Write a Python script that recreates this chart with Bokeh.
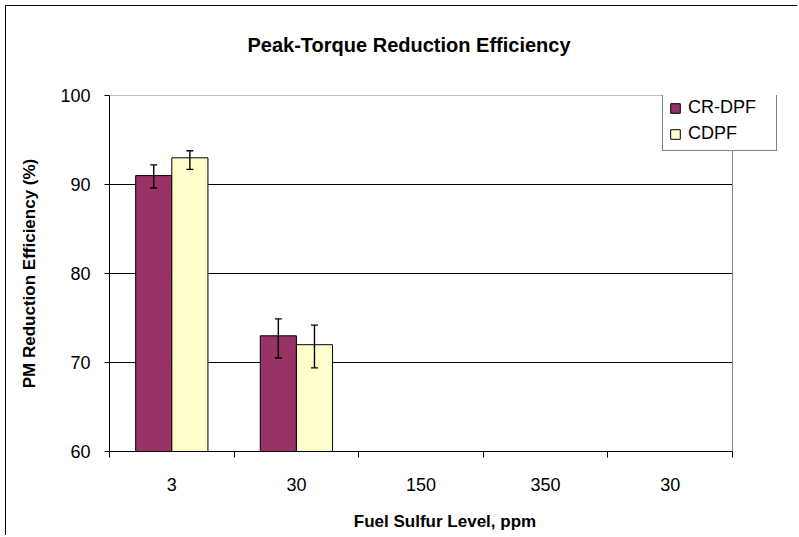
import numpy as np
from bokeh.plotting import figure
from bokeh.models import ColumnDataSource, FixedTicker, Whisker, TeeHead, Range1d, Title
from bokeh.embed import file_html
from bokeh.resources import INLINE

# ---- data ----
categories = ["3", "30", "150", "350", "30"]
cr_dpf = [91.0, 73.0]
cr_dpf_upper = [92.2, 74.9]
cr_dpf_lower = [89.6, 70.5]
cdpf = [93.0, 72.0]
cdpf_upper = [93.8, 74.2]
cdpf_lower = [91.7, 69.4]
y_ticks = [60, 70, 80, 90, 100]
grid_ticks = [70, 80, 90]

# ---- style / layout constants ----
FONT = "Liberation Sans"
BAR_W = 0.29
OFF = BAR_W / 2
C1 = "#993366"
C2 = "#FFFFCC"
EXTRA = 0.385          # room to the right of the last category for the legend

n = len(categories)
idx = np.arange(n)
x_lo, x_hi = -0.5, n - 0.5

p = figure(title=None, width=792, height=530, output_backend="svg", toolbar_location=None,
           x_range=Range1d(x_lo, x_hi + EXTRA), y_range=Range1d(y_ticks[0], y_ticks[-1]),
           min_border_left=103, min_border_right=18, min_border_top=89, min_border_bottom=85)
p.styles = {"border-left": "1px solid black", "border-top": "1px solid black",
            "margin-left": "5px", "margin-top": "5px"}

p.background_fill_color = "white"
p.border_fill_color = "white"
p.outline_line_color = None

# grid lines and plot-area border (limited to the category span)
p.segment(x0=[x_lo] * len(grid_ticks), x1=[x_hi] * len(grid_ticks), y0=grid_ticks, y1=grid_ticks,
          line_color="black", line_width=1)
p.segment(x0=[x_lo, x_hi], x1=[x_hi, x_hi], y0=[y_ticks[-1], y_ticks[0]], y1=[y_ticks[-1], y_ticks[-1]],
          line_color="#808080", line_width=1)

s1 = ColumnDataSource(dict(x=idx[:len(cr_dpf)] - OFF, top=cr_dpf, upper=cr_dpf_upper, lower=cr_dpf_lower))
s2 = ColumnDataSource(dict(x=idx[:len(cdpf)] + OFF, top=cdpf, upper=cdpf_upper, lower=cdpf_lower))

p.vbar(x="x", top="top", bottom=0, width=BAR_W, source=s1, fill_color=C1,
       line_color="black", line_width=1, legend_label="CR-DPF")
p.vbar(x="x", top="top", bottom=0, width=BAR_W, source=s2, fill_color=C2,
       line_color="black", line_width=1, legend_label="CDPF")

for s in (s1, s2):
    w = Whisker(source=s, base="x", upper="upper", lower="lower", level="overlay",
                line_color="black", line_width=1.4,
                upper_head=TeeHead(size=7, line_color="black", line_width=1.4),
                lower_head=TeeHead(size=7, line_color="black", line_width=1.4))
    p.add_layout(w)

p.xgrid.visible = False
p.ygrid.visible = False

# x axis
p.xaxis.bounds = (x_lo, x_hi)
p.xaxis.ticker = FixedTicker(ticks=list(idx), minor_ticks=list(np.arange(n + 1) - 0.5))
p.xaxis.major_label_overrides = {int(i): c for i, c in zip(idx, categories)}
p.xaxis.major_tick_out = 0
p.xaxis.major_tick_in = 0
p.xaxis.minor_tick_out = 6
p.xaxis.minor_tick_in = 0
p.xaxis.minor_tick_line_color = "black"
p.xaxis.major_label_standoff = 20
p.xaxis.axis_label = "Fuel Sulfur Level, ppm"
p.xaxis.axis_label_standoff = 18

# y axis
p.yaxis.ticker = FixedTicker(ticks=y_ticks)
p.yaxis.major_tick_out = 5
p.yaxis.major_tick_in = 0
p.yaxis.minor_tick_line_color = None
p.yaxis.major_label_standoff = 14
p.yaxis.axis_label = "PM Reduction Efficiency (%)"
p.yaxis.axis_label_standoff = 18

for ax in (p.xaxis, p.yaxis):
    ax.axis_line_color = "black"
    ax.major_tick_line_color = "black"
    ax.major_label_text_font = FONT
    ax.major_label_text_font_size = "18px"
    ax.major_label_text_color = "black"
    ax.axis_label_text_font = FONT
    ax.axis_label_text_font_size = "17px"
    ax.axis_label_text_font_style = "bold"
    ax.axis_label_text_color = "black"

# title (a blank spacer panel between the frame and the title lifts it up)
spacer = Title(text=" ", text_font_size="10px", standoff=22)
p.add_layout(spacer, "above")
main_title = Title(text="Peak-Torque Reduction Efficiency", align="left", offset=138,
                   text_font=FONT, text_font_size="20px", text_font_style="bold",
                   text_color="black")
p.add_layout(main_title, "above")

# legend
lg = p.legend[0]
lg.location = (553, 300)
lg.padding = 6
lg.spacing = 5
lg.margin = 0
lg.glyph_width = 12
lg.glyph_height = 12
lg.label_standoff = 7
lg.label_width = 82
lg.label_height = 20
lg.label_text_font = FONT
lg.label_text_font_size = "18px"
lg.label_text_color = "black"
lg.border_line_color = "black"
lg.border_line_width = 1
lg.background_fill_color = "white"
lg.background_fill_alpha = 1

open("out.html", "w").write(file_html(p, INLINE))
